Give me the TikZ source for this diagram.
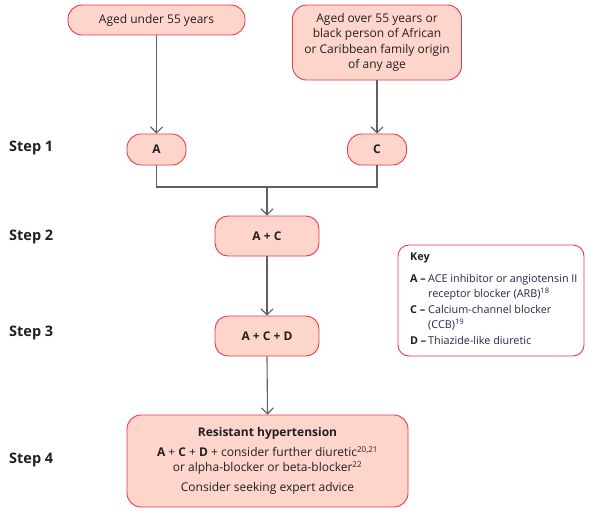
\documentclass[tikz,border=0pt]{standalone}
\usepackage{fontspec}
\setmainfont{Open Sans}
\usetikzlibrary{arrows.meta}
\definecolor{boxfill}{HTML}{FDD5CB}
\definecolor{boxline}{HTML}{E8384F}
\definecolor{conn}{HTML}{606060}
\definecolor{txt}{HTML}{231F20}
\definecolor{keytxt}{HTML}{1F2A48}
\begin{document}
\begin{tikzpicture}[x=1pt,y=-1pt,
  box/.style={draw=boxline, fill=boxfill, line width=0.9pt, text=txt, align=center, inner sep=2pt, font=\fontsize{12}{15}\selectfont},
  pill/.style={box, rounded corners=14pt},
  bfbox/.style={font=\fontsize{12}{15}\selectfont\bfseries},
  link/.style={draw=conn, line width=1.1pt},
  arr/.style={link, -{Straight Barb[length=6pt,width=12pt,line width=1.1pt]}},
  steplab/.style={anchor=west, font=\fontsize{14.5}{16}\selectfont\bfseries, text=txt, inner sep=0pt}]
\useasboundingbox (0,0) rectangle (596,515);
\node[pill, minimum width=177pt, minimum height=30pt] (u55) at (156.5,20) {Aged under 55 years};
\node[box, rounded corners=14pt, minimum width=169pt, minimum height=75pt, font=\fontsize{12}{15.5}\selectfont] (o55) at (377,42.5) {Aged over 55 years or\\black person of African\\or Caribbean family origin\\of any age};
\node[pill, bfbox, minimum width=59pt, minimum height=31pt] (A) at (156.5,149.5) {A};
\node[pill, bfbox, minimum width=59pt, minimum height=31pt] (C) at (377,149.5) {C};
\coordinate (j) at (267,187);
\node[box, bfbox, rounded corners=13pt, minimum width=104pt, minimum height=40pt] (AC) at (267,236) {A + C};
\node[box, bfbox, rounded corners=13pt, minimum width=104pt, minimum height=40pt] (ACD) at (267,336) {A + C + D};
\node[box, rounded corners=14pt, minimum width=281pt, minimum height=92pt, font=\fontsize{12}{15.5}\selectfont] (res) at (267.5,461) {\textbf{Resistant hypertension}\\[4pt]\textbf{A} + \textbf{C} + \textbf{D} + consider further diuretic\textsuperscript{20,21}\\or alpha-blocker or beta-blocker\textsuperscript{22}\\[4pt]Consider seeking expert advice};
\node[draw=boxline, fill=white, line width=0.9pt, rounded corners=11pt, minimum width=186pt, minimum height=111pt, inner sep=0pt] (key) at (491,300.5) {};
\node[anchor=north west, inner sep=0pt, align=left, text=keytxt, font=\fontsize{10.8}{15.5}\selectfont] (keytext) at (410,253) {\textbf{\color{txt}Key}\\[7pt]
\begin{tabular}{@{}l@{\,}l@{}}
\textbf{\color{txt}A –} & ACE inhibitor or angiotensin II\\
 & receptor blocker (ARB)\textsuperscript{18}\\
\textbf{\color{txt}C –} & Calcium-channel blocker\\
 & (CCB)\textsuperscript{19}\\
\textbf{\color{txt}D –} & Thiazide-like diuretic
\end{tabular}};
\node[steplab] (s1) at (9,148) {Step 1};
\node[steplab] (s2) at (9,237) {Step 2};
\node[steplab] (s3) at (9,333) {Step 3};
\node[steplab] (s4) at (9,460) {Step 4};
\draw[arr] (u55.south) -- (A.north);
\draw[arr] (o55.south) -- (C.north);
\draw[link] (A.south) |- (j) -| (C.south);
\draw[arr] (j) -- (AC.north);
\draw[arr] (AC.south) -- (ACD.north);
\draw[arr] (ACD.south) -- (res.north);
\end{tikzpicture}
\end{document}
